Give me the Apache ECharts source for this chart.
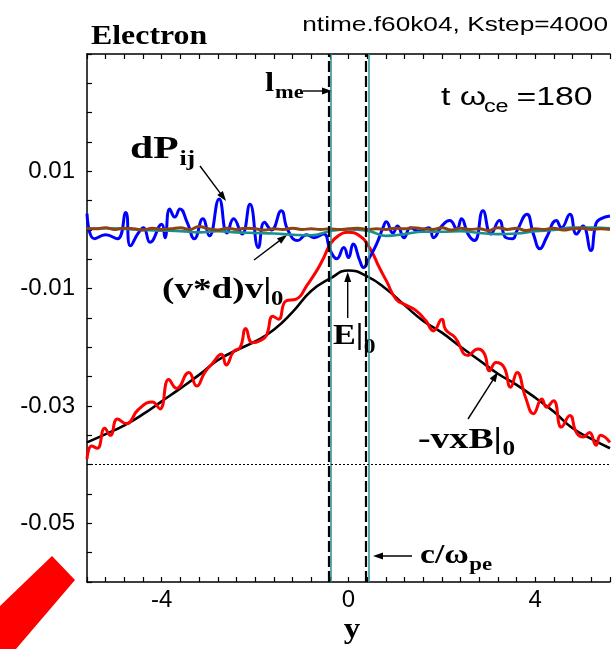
<!DOCTYPE html>
<html>
<head>
<meta charset="utf-8">
<script src="https://cdn.jsdelivr.net/npm/echarts@6/dist/echarts.min.js"></script>
<style>
  html, body { margin: 0; padding: 0; background: #fff; }
  #chart { width: 613px; height: 649px; }
</style>
</head>
<body>
<div id="chart"></div>
<script>
// tick labels
const xLabels = [-4, 0, 4];
const yLabels = [-0.05, -0.03, -0.01, 0.01];

// -vxB|0 (black), sampled every 0.4 from -5.6
const vxbX = [-5.6, -5.2, -4.8, -4.4, -4.0, -3.6, -3.2, -2.8, -2.4, -2.0, -1.6, -1.2, -0.8, -0.4, 0,
  0.4, 0.8, 1.2, 1.6, 2.0, 2.4, 2.8, 3.2, 3.6, 4.0, 4.4, 4.8, 5.2, 5.6];
const vxbY = [-0.0362, -0.0348, -0.0333, -0.0314, -0.0292, -0.0270, -0.0247, -0.0222, -0.0205, -0.0190,
  -0.0170, -0.0140, -0.0104, -0.0083, -0.0069, -0.0079, -0.0100, -0.0128, -0.0155, -0.0175,
  -0.0199, -0.0222, -0.0245, -0.0264, -0.0286, -0.0310, -0.0338, -0.0356, -0.0372];

// E|0 (red)
const eX = [-5.6, -5.5, -5.38, -5.22, -5.1, -4.95, -4.76, -4.5, -4.2, -4.04, -3.85, -3.68, -3.42, -3.25,
  -3.08, -2.92, -2.72, -2.62, -2.46, -2.32, -2.2, -2.06, -1.88, -1.76, -1.62, -1.5, -1.34, -1.12,
  -0.88, -0.67, -0.53, -0.39, -0.22, 0, 0.22, 0.45, 0.66, 0.82, 1.02, 1.23, 1.44, 1.65, 1.82, 2.0,
  2.08, 2.28, 2.56, 2.77, 2.91, 3.02, 3.16, 3.33, 3.47, 3.61, 3.79, 3.96, 4.14, 4.24, 4.39, 4.56,
  4.74, 4.88, 5.02, 5.16, 5.3, 5.4, 5.6];
const eY = [-0.0390, -0.0368, -0.0372, -0.0338, -0.0350, -0.0322, -0.0330, -0.0306, -0.0293, -0.0305,
  -0.0255, -0.0270, -0.0243, -0.0266, -0.0243, -0.0228, -0.0212, -0.0230, -0.0207, -0.0200,
  -0.0168, -0.0192, -0.0188, -0.0180, -0.0147, -0.0152, -0.0121, -0.0118, -0.0093, -0.0068,
  -0.0047, -0.0024, -0.0010, -0.0004, -0.0009, -0.0030, -0.0064, -0.0088, -0.0118, -0.0128,
  -0.0137, -0.0154, -0.0172, -0.0152, -0.0170, -0.0183, -0.0214, -0.0203, -0.0211, -0.0240,
  -0.0226, -0.0234, -0.0268, -0.0243, -0.0285, -0.0313, -0.0288, -0.0302, -0.0291, -0.0336,
  -0.0316, -0.0345, -0.0353, -0.0345, -0.0367, -0.0350, -0.0362];

// dPij (blue)
const dpX = [-5.6, -5.44, -5.2, -4.95, -4.77, -4.67, -4.5, -4.39, -4.25, -4.0, -3.93, -3.83, -3.72,
  -3.61, -3.45, -3.3, -3.12, -2.98, -2.77, -2.6, -2.46, -2.28, -2.11, -1.93, -1.8, -1.65, -1.44,
  -1.3, -1.09, -0.9, -0.74, -0.53, -0.39, -0.25, -0.1, 0, 0.1, 0.24, 0.32, 0.45, 0.6, 0.74, 0.81,
  0.95, 1.05, 1.19, 1.33, 1.5, 1.72, 1.82, 2.0, 2.17, 2.32, 2.42, 2.56, 2.7, 2.88, 3.05, 3.23,
  3.37, 3.51, 3.61, 3.82, 3.96, 4.1, 4.24, 4.45, 4.56, 4.74, 4.88, 5.02, 5.19, 5.3, 5.4, 5.6];
const dpY = [0.0028, -0.0015, -0.0008, -0.0015, 0.0030, -0.0027, -0.0005, 0.0004, -0.0021, 0.0010,
  -0.0013, 0.0036, 0.0022, 0.0036, 0.0012, -0.0015, 0.0019, -0.0010, 0.0053, -0.0005, 0.0019,
  -0.0007, 0.0044, -0.0030, 0.0013, 0.0000, 0.0033, 0.0000, -0.0018, -0.0008, -0.0013, -0.0007,
  -0.0035, -0.0049, -0.0030, -0.0047, -0.0024, -0.0052, -0.0064, -0.0047, -0.0024, 0.0004, 0.0014,
  -0.0005, 0.0007, -0.0013, 0.0004, -0.0002, 0.0004, -0.0013, 0.0007, 0.0016, 0.0002, 0.0019,
  -0.0007, -0.0018, 0.0033, -0.0007, 0.0016, -0.0013, -0.0015, -0.0001, 0.0027, -0.0007, -0.0032,
  -0.0013, 0.0016, 0.0004, 0.0027, -0.0007, 0.0007, -0.0035, 0.0011, 0.0019, 0.0024];

// (v*d)v|0 (teal), every 0.4 from -5.6
const vdvY = [0.0002, 0.0003, 0.0002, 0.0000, -0.0001, -0.0002, -0.0004, -0.0002, -0.0004, -0.0005,
  -0.0006, -0.0008, -0.0009, -0.0002, 0.0001, -0.0001, -0.0010, -0.0007, -0.0003, -0.0003,
  -0.0002, -0.0005, -0.0007, -0.0006, -0.0002, 0.0000, 0.0004, 0.0004, 0.0003];

// brown term, every 0.2 from -5.6
const brownY = [0.0003, 0.0002, 0.0004, 0.0001, 0.0003, 0.0002, 0.0000, 0.0003, 0.0001, 0.0002,
  0.0004, 0.0001, 0.0006, 0.0002, 0.0000, 0.0003, 0.0001, 0.0003, 0.0002, 0.0000,
  0.0002, 0.0001, 0.0003, 0.0001, 0.0002, 0.0001, 0.0002, 0.0001, 0.0002, 0.0003,
  0.0001, 0.0002, 0.0001, 0.0003, 0.0002, 0.0004, 0.0002, 0.0001, 0.0004, 0.0000,
  0.0003, 0.0001, 0.0002, -0.0001, 0.0004, 0.0001, 0.0003, -0.0001, 0.0002, 0.0001,
  0.0003, 0.0000, 0.0002, 0.0003, 0.0001, 0.0002, 0.0001];

// guide lines
const lme = [-0.4, 0.4];
const refLevel = -0.04;

const pairs = (xs, ys) => ys.map((v, i) => [xs[i], v]);
const stepPairs = (x0, dx, ys) => ys.map((v, i) => [+(x0 + i * dx).toFixed(2), v]);

const near = (v, list) => list.some((t) => Math.abs(v - t) < 1e-6);

const chart = echarts.init(document.getElementById('chart'));

const serif = '"Liberation Serif", "DejaVu Serif", serif';
const sans = '"Liberation Sans", Arial, sans-serif';

function arrow(x1, y1, x2, y2) {
  const a = Math.atan2(y2 - y1, x2 - x1);
  const L = 10, W = 3.5;
  const c = Math.cos(a), s = Math.sin(a);
  return [
    { type: 'line', silent: true, shape: { x1, y1, x2: x2 - L * 0.6 * c, y2: y2 - L * 0.6 * s },
      style: { stroke: '#000', lineWidth: 1.4 } },
    { type: 'polygon', silent: true,
      shape: { points: [[x2, y2], [x2 - L * c + W * s, y2 - L * s - W * c], [x2 - L * c - W * s, y2 - L * s + W * c]] },
      style: { fill: '#000' } },
  ];
}

// label made of text pieces [text, dx, dy, size]
function label(x, y, parts, font, weight, sx) {
  return {
    type: 'group', x, y, scaleX: sx, silent: true,
    children: parts.map((p) => ({
      type: 'text', x: p[1], y: p[2],
      style: { text: p[0], fontSize: p[3], fontFamily: font, fontWeight: weight,
        fill: '#000', align: p[4] || 'left', verticalAlign: 'middle' },
    })),
  };
}

const axisLine = { onZero: false, lineStyle: { color: '#000', width: 1.5 } };
const tick = { show: true, inside: true, length: 5, lineStyle: { color: '#000', width: 1.2 } };

const option = {
  animation: false,
  grid: { left: 87, right: -5, top: 54, bottom: 67 },
  xAxis: [
    {
      type: 'value', min: -5.6, max: 5.6, interval: 0.4, position: 'bottom',
      axisLine, axisTick: tick, splitLine: { show: false },
      axisLabel: {
        margin: 6, color: '#000', fontSize: 24, fontFamily: sans,
        formatter: (v) => (near(v, xLabels) ? String(Math.round(v)) : ''),
      },
    },
    {
      type: 'value', min: -5.6, max: 5.6, interval: 0.4, position: 'top',
      axisLine, axisTick: tick, splitLine: { show: false }, axisLabel: { show: false },
    },
  ],
  yAxis: {
    type: 'value', min: -0.06, max: 0.03, interval: 0.005,
    axisLine, axisTick: tick, splitLine: { show: false },
    axisLabel: {
      margin: 12, color: '#000', fontSize: 24, fontFamily: sans,
      formatter: (v) => (near(v, yLabels) ? v.toFixed(2) : ''),
    },
  },
  series: [
    {
      name: 'guides', type: 'line', data: [], silent: true,
      markLine: {
        silent: true, symbol: 'none', label: { show: false },
        data: [
          ...lme.map((x) => ({ xAxis: x + 0.03, lineStyle: { color: '#2a8c8c', width: 1.5, type: 'solid' } })),
          ...lme.map((x) => ({ xAxis: x - 0.03, lineStyle: { color: '#000', width: 2.2, type: [11, 4] } })),
          { yAxis: refLevel, lineStyle: { color: '#000', width: 1, type: [2, 2] } },
        ],
      },
    },
    {
      name: '-vxB|0', type: 'line', smooth: true, showSymbol: false,
      data: pairs(vxbX, vxbY), lineStyle: { color: '#000', width: 2.6 },
    },
    {
      name: 'E|0', type: 'line', smooth: true, showSymbol: false,
      data: pairs(eX, eY), lineStyle: { color: '#ff0000', width: 3 },
    },
    {
      name: 'dPij', type: 'line', smooth: true, showSymbol: false,
      data: pairs(dpX, dpY), lineStyle: { color: '#0000ff', width: 3 },
    },
    {
      name: '(v*d)v|0', type: 'line', smooth: true, showSymbol: false,
      data: stepPairs(-5.6, 0.4, vdvY), lineStyle: { color: '#1a8f8f', width: 2.6 },
    },
    {
      name: 'brown', type: 'line', smooth: true, showSymbol: false,
      data: stepPairs(-5.6, 0.2, brownY), lineStyle: { color: '#8b4513', width: 3 },
    },
  ],
  graphic: [
    label(91, 37, [['Electron', 0, 0, 27]], serif, 'bold', 1.18),
    label(608, 25, [['ntime.f60k04, Kstep=4000', 0, 0, 21, 'right']], sans, 'normal', 1.25),
    label(441, 98, [['t ω', 0, 0, 26], ['ce', 33, 9, 18], ['=180', 58, 0, 26]], sans, 'normal', 1.3),
    label(265, 84, [['l', 0, 0, 28], ['me', 8.5, 9, 19]], serif, 'bold', 1.18),
    ...arrow(303, 91, 332, 91),
    label(130, 150, [['dP', 0, 0, 32], ['ij', 38, 10, 20]], serif, 'bold', 1.3),
    ...arrow(200, 166, 226, 201),
    label(162, 290, [['(v*d)v|', 0, 0, 30], ['0', 88, 10, 20]], serif, 'bold', 1.24),
    ...arrow(254, 260, 287, 235),
    label(333, 337, [['E|', 0, 0, 29], ['0', 26, 11, 20]], serif, 'bold', 1.18),
    ...arrow(347.7, 318, 347.7, 272),
    label(418, 440, [['-vxB|', 0, 0, 30], ['0', 67, 10, 20]], serif, 'bold', 1.26),
    ...arrow(468, 419, 498, 372),
    label(420, 556, [['c/ω', 0, 0, 28], ['pe', 41, 9, 19]], serif, 'bold', 1.2),
    ...arrow(412, 556, 373, 556),
    label(352, 630, [['y', 0, 0, 30, 'center']], serif, 'bold', 1.1),
    {
      type: 'polygon', silent: true,
      shape: { points: [[0, 606], [52, 556], [75, 580], [16, 649], [0, 649]] },
      style: { fill: '#ff0000' },
    },
  ],
};

chart.setOption(option);
</script>
</body>
</html>
